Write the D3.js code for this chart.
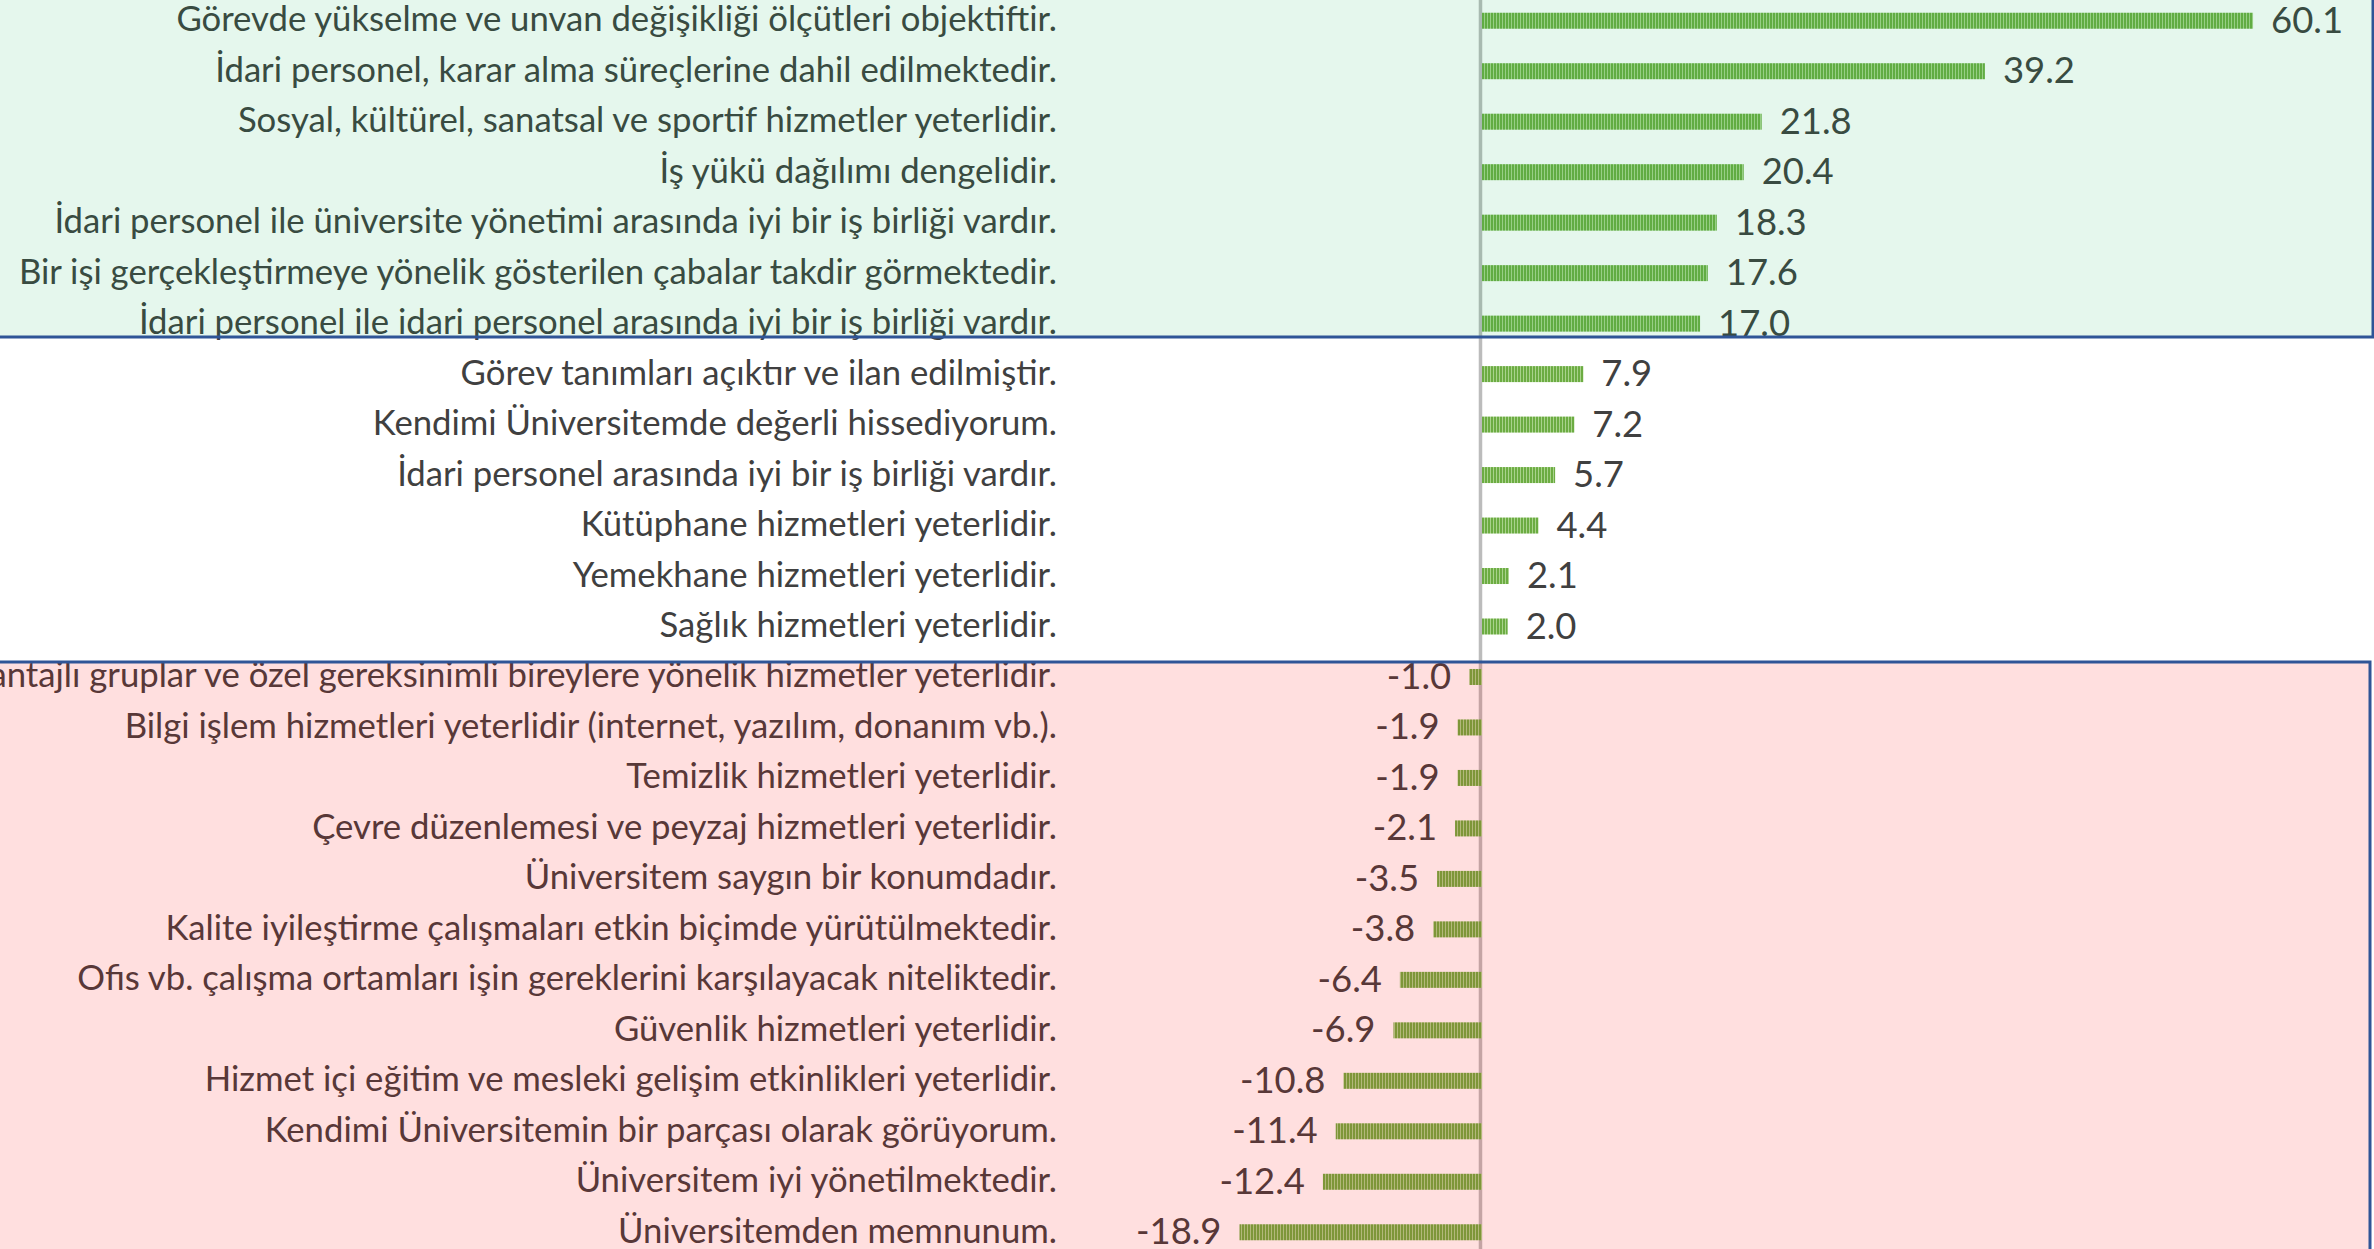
<!DOCTYPE html>
<html>
<head>
<meta charset="utf-8">
<script src="https://cdn.jsdelivr.net/npm/d3@7"></script>
<style>
  html, body { margin: 0; padding: 0; background: #fff; overflow: hidden; }
  text { font-family: Lato, "Open Sans", sans-serif; }
</style>
</head>
<body>
<div id="chart"></div>
<script>
// survey items (top to bottom) and their scores
let items = [
    "Görevde yükselme ve unvan değişikliği ölçütleri objektiftir.",
    "İdari personel, karar alma süreçlerine dahil edilmektedir.",
    "Sosyal, kültürel, sanatsal ve sportif hizmetler yeterlidir.",
    "İş yükü dağılımı dengelidir.",
    "İdari personel ile üniversite yönetimi arasında iyi bir iş birliği vardır.",
    "Bir işi gerçekleştirmeye yönelik gösterilen çabalar takdir görmektedir.",
    "İdari personel ile idari personel arasında iyi bir iş birliği vardır.",
    "Görev tanımları açıktır ve ilan edilmiştir.",
    "Kendimi Üniversitemde değerli hissediyorum.",
    "İdari personel arasında iyi bir iş birliği vardır.",
    "Kütüphane hizmetleri yeterlidir.",
    "Yemekhane hizmetleri yeterlidir.",
    "Sağlık hizmetleri yeterlidir.",
    "Dezavantajlı gruplar ve özel gereksinimli bireylere yönelik hizmetler yeterlidir.",
    "Bilgi işlem hizmetleri yeterlidir (internet, yazılım, donanım vb.).",
    "Temizlik hizmetleri yeterlidir.",
    "Çevre düzenlemesi ve peyzaj hizmetleri yeterlidir.",
    "Üniversitem saygın bir konumdadır.",
    "Kalite iyileştirme çalışmaları etkin biçimde yürütülmektedir.",
    "Ofis vb. çalışma ortamları işin gereklerini karşılayacak niteliktedir.",
    "Güvenlik hizmetleri yeterlidir.",
    "Hizmet içi eğitim ve mesleki gelişim etkinlikleri yeterlidir.",
    "Kendimi Üniversitemin bir parçası olarak görüyorum.",
    "Üniversitem iyi yönetilmektedir.",
    "Üniversitemden memnunum."
];
let scores = [60.1, 39.2, 21.8, 20.4, 18.3, 17.6, 17.0, 7.9, 7.2, 5.7, 4.4, 2.1, 2.0,
    -1.0, -1.9, -1.9, -2.1, -3.5, -3.8, -6.4, -6.9, -10.8, -11.4, -12.4, -18.9];

var width = 2374,
    height = 1249;

var svg = d3.select('#chart').append('svg')
    .attr('width', width)
    .attr('height', height);

// striped fill like the excel pattern
var defs = svg.append('defs');
var pat = defs.append('pattern')
    .attr('id', 'stripes')
    .attr('patternUnits', 'userSpaceOnUse')
    .attr('width', 3).attr('height', 20);
pat.append('rect').attr('width', 3).attr('height', 20).attr('fill', '#a9d38c');
pat.append('rect').attr('width', 2).attr('height', 20).attr('fill', '#6cac42');

let data = items.map((d, i) => ({label: d, value: scores[i]}));

// scales
let scaleX = d3.scaleLinear().domain([-20, 65]).range([1225.4, 2315.9]);
let scaleY = d3.scalePoint().domain(items).range([-4.5, 1257.5]).padding(0.5);
let barH = 16;

var g = svg.append('g');

// axis line at zero
g.append('line')
    .attr('x1', scaleX(0) - 1.5).attr('x2', scaleX(0) - 1.5)
    .attr('y1', 0).attr('y2', height)
    .attr('stroke', '#bcbcbc')
    .attr('stroke-width', 3.5);

g.selectAll('.bar').data(data).enter()
    .append('rect')
    .attr('class', 'bar')
    .attr('x', d => scaleX(Math.min(0, d.value)))
    .attr('width', d => Math.abs(scaleX(d.value) - scaleX(0)))
    .attr('y', d => scaleY(d.label) - barH / 2)
    .attr('height', barH)
    .attr('fill', 'url(#stripes)');

// category labels
let labels = g.selectAll('.cat').data(data).enter()
    .append('text')
    .attr('class', 'cat')
    .attr('x', 1057)
    .attr('y', d => scaleY(d.label) + 10.5)
    .attr('text-anchor', 'end')
    .attr('fill', '#404040')
    .style('font-size', '32px')
    .text(d => d.label);

// fit font size to the width of the first label in the picture
let w0 = labels.node().getComputedTextLength();
let fs = 32 * 881 / w0;
labels.style('font-size', fs + 'px');

let fmt = v => v.toFixed(1);
g.selectAll('.val').data(data).enter()
    .append('text')
    .attr('class', 'val')
    .attr('x', d => d.value >= 0 ? scaleX(d.value) + 18 : scaleX(d.value) - 18)
    .attr('y', d => scaleY(d.label) + 12)
    .attr('text-anchor', d => d.value >= 0 ? 'start' : 'end')
    .attr('fill', '#404040')
    .style('font-size', (fs * 1.05) + 'px')
    .text(d => fmt(d.value));

// coloured overlays for the groups
svg.append('rect')
    .attr('x', -10).attr('y', -10)
    .attr('width', 2383).attr('height', 347)
    .attr('fill', 'rgb(0,176,80)').attr('fill-opacity', 0.1)
    .attr('stroke', '#2f5597').attr('stroke-width', 3);

svg.append('rect')
    .attr('x', -10).attr('y', 662)
    .attr('width', 2380).attr('height', 620)
    .attr('fill', 'rgb(255,0,0)').attr('fill-opacity', 0.125)
    .attr('stroke', '#2f5597').attr('stroke-width', 3);
</script>
</body>
</html>
